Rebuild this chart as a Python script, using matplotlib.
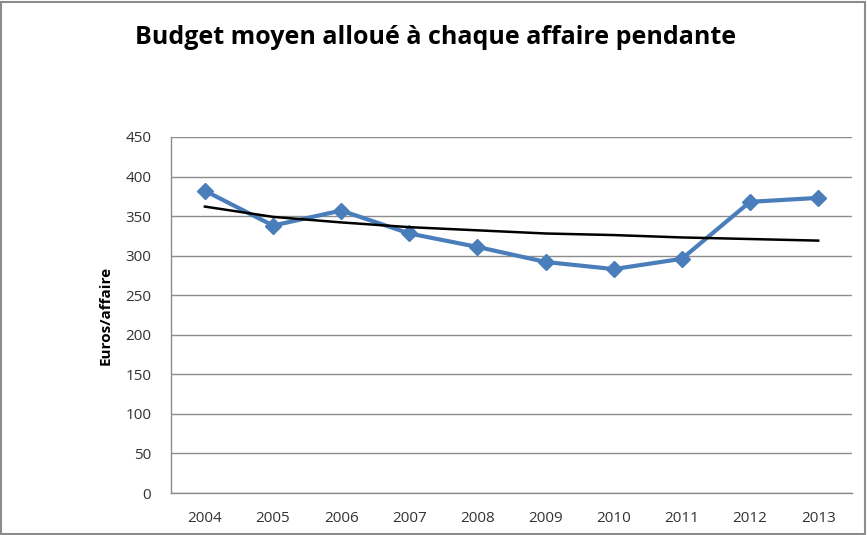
import matplotlib
matplotlib.use("Agg")
import matplotlib.pyplot as plt
from matplotlib.patches import Rectangle

years = ["2004", "2005", "2006", "2007", "2008", "2009", "2010", "2011", "2012", "2013"]
budget = [382, 338, 357, 328, 311, 292, 283, 296, 368, 373]
trend = [362, 349, 342, 336, 332, 328, 326, 323, 321, 319]
yticks = [0, 50, 100, 150, 200, 250, 300, 350, 400, 450]

plt.rcParams["font.family"] = ["Open Sans", "DejaVu Sans"]

fig = plt.figure(figsize=(8.67, 5.35), dpi=100)
ax = fig.add_axes([0.197, 0.0785, 0.786, 0.6655])

x = list(range(len(years)))
ax.plot(x, budget, color="#4A7EBB", linewidth=3, marker="D", markersize=8,
        zorder=3)
ax.plot(x, trend, color="black", linewidth=1.8, zorder=4)

ax.set_xlim(-0.5, len(years) - 0.5)
ax.set_ylim(0, 450)
ax.set_yticks(yticks)
ax.set_xticks(x)
ax.set_xticklabels(years)
ax.tick_params(axis="both", length=0, labelsize=11, colors="#333333")
ax.tick_params(axis="y", pad=14)
ax.tick_params(axis="x", pad=13)
ax.grid(axis="y", color="#8c8c8c", linewidth=1)
ax.set_axisbelow(True)

for side in ["top", "right"]:
    ax.spines[side].set_visible(False)
for side in ["left", "bottom"]:
    ax.spines[side].set_color("#8c8c8c")
    ax.spines[side].set_linewidth(1)

ax.set_ylabel("Euros/affaire", fontsize=11, fontweight="bold")
ax.yaxis.set_label_coords(-0.085, 0.5)
fig.text(0.502, 0.929, "Budget moyen alloué à chaque affaire pendante",
         ha="center", va="center", fontsize=18, fontweight="bold")

fig.patches.append(Rectangle((0.001, 0.002), 0.997, 0.995, transform=fig.transFigure,
                             fill=False, edgecolor="#8c8c8c", linewidth=1.5))

fig.savefig("out.png", dpi=100)
